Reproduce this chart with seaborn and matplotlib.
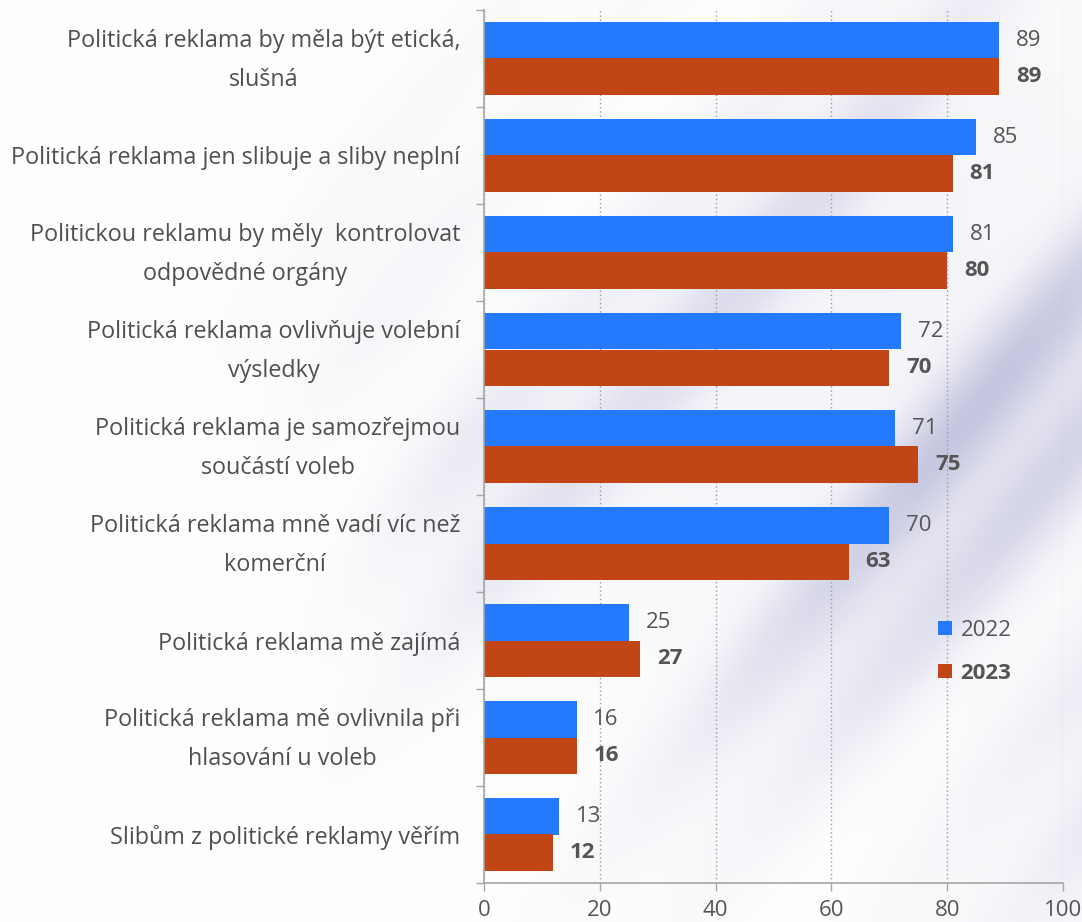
import numpy as np
import pandas as pd
import matplotlib
matplotlib.use("Agg")
import matplotlib.pyplot as plt
from matplotlib.patches import Patch
from matplotlib.transforms import ScaledTranslation
import seaborn as sns

# Survey statements (top to bottom) and agreement shares in percent
statements = [
    "Politická reklama by měla být etická,\nslušná",
    "Politická reklama jen slibuje a sliby neplní",
    "Politickou reklamu by měly  kontrolovat\nodpovědné orgány",
    "Politická reklama ovlivňuje volební\nvýsledky",
    "Politická reklama je samozřejmou\nsoučástí voleb",
    "Politická reklama mně vadí víc než\nkomerční",
    "Politická reklama mě zajímá",
    "Politická reklama mě ovlivnila při\nhlasování u voleb",
    "Slibům z politické reklamy věřím",
]
share_2022 = [89, 85, 81, 72, 71, 70, 25, 16, 13]
share_2023 = [89, 81, 80, 70, 75, 63, 27, 16, 12]
years = ["2022", "2023"]
x_ticks = [0, 20, 40, 60, 80, 100]

BLUE = "#2479FF"
RED = "#C24515"
TEXT = "#505050"
VALUE = "#555555"
AXIS = "#A6A6A6"

df = pd.DataFrame({
    "statement": statements * 2,
    "year": [years[0]] * len(statements) + [years[1]] * len(statements),
    "share": share_2022 + share_2023,
})

sns.set_theme(style="white")
plt.rcParams["font.family"] = ["Open Sans", "DejaVu Sans"]

W, H = 1082, 922
fig = plt.figure(figsize=(W / 100, H / 100), dpi=100)
fig.patch.set_facecolor("white")

# Soft lavender wash with diagonal streaks in the backdrop
yy, xx = np.mgrid[0:H, 0:W].astype(float)
s = 1.2 * xx + yy
env = np.exp(-(((xx - 1020) / 430) ** 2 + ((yy - 430) / 380) ** 2))
streaks = (0.6 + 0.4 * np.sin(s / 80.0)) * (0.75 + 0.25 * np.sin(s / 31.0 + 1.3))
side = np.exp(-(((xx - 460) / 120) ** 2 + ((yy - 420) / 170) ** 2)) * 0.3
alpha = np.clip(0.85 * env * streaks + side * streaks, 0, 0.8)
tint = np.array([0.70, 0.70, 0.84])
img = 1 - alpha[..., None] * (1 - tint)
bg = fig.add_axes([0, 0, 1, 1], zorder=0)
bg.imshow(img, aspect="auto", interpolation="bilinear")
bg.axis("off")

ax = fig.add_axes([484 / W, 1 - 883 / H, 579 / W, 873 / H], zorder=1)
ax.patch.set_alpha(0)

sns.barplot(
    data=df, y="statement", x="share", hue="year", order=statements,
    hue_order=years, palette=[BLUE, RED], orient="h", width=0.76,
    saturation=1, legend=False, ax=ax, errorbar=None,
)

for cont, weight in zip(ax.containers, ["normal", "bold"]):
    for bar in cont:
        bar.set_edgecolor("none")
    ax.bar_label(cont, fmt="%d", padding=12, fontsize=16, color=VALUE,
                 fontweight=weight)

ax.set_xlim(0, 100)
ax.set_ylim(len(statements) - 0.5, -0.5)
ax.set_xticks(x_ticks)
ax.set_xticklabels([str(t) for t in x_ticks], fontsize=16, color=VALUE)
ax.tick_params(axis="x", length=6, width=1, color=AXIS, pad=6, direction="out", bottom=True)

ax.set_yticks(range(len(statements)))
ax.set_yticklabels(statements, fontsize=16.8, color=TEXT)
ax.set_yticks(np.arange(-0.5, len(statements), 1.0), minor=True)
ax.tick_params(axis="y", which="major", length=0, pad=17)
ax.tick_params(axis="y", which="minor", length=6, width=1, color=AXIS, left=True, direction="out")

# Two-line statements: centred lines, generous leading, block re-centred on its row
lift = ScaledTranslation(0, 6 / 72, fig.dpi_scale_trans)
for t in ax.get_yticklabels():
    t.set_multialignment("center")
    if "\n" in t.get_text():
        t.set_linespacing(1.8)
        t.set_transform(t.get_transform() + lift)

ax.set_xlabel("")
ax.set_ylabel("")
ax.xaxis.grid(True, linestyle=(0, (1, 2)), color="#9A9A9A", linewidth=1)
ax.yaxis.grid(False)
ax.set_axisbelow(True)
for side_name in ["top", "right"]:
    ax.spines[side_name].set_visible(False)
for side_name in ["left", "bottom"]:
    ax.spines[side_name].set_color(AXIS)
    ax.spines[side_name].set_linewidth(1.2)

handles = [Patch(facecolor=BLUE, edgecolor="none"), Patch(facecolor=RED, edgecolor="none")]
leg = ax.legend(handles, years, loc="center left", bbox_to_anchor=(0.75, 0.265),
                frameon=False, fontsize=16, handlelength=0.6, handleheight=0.6,
                handletextpad=0.4, labelspacing=1.0)
for txt, weight in zip(leg.get_texts(), ["normal", "bold"]):
    txt.set_color(VALUE)
    txt.set_fontweight(weight)

fig.savefig("out.png", dpi=100)
